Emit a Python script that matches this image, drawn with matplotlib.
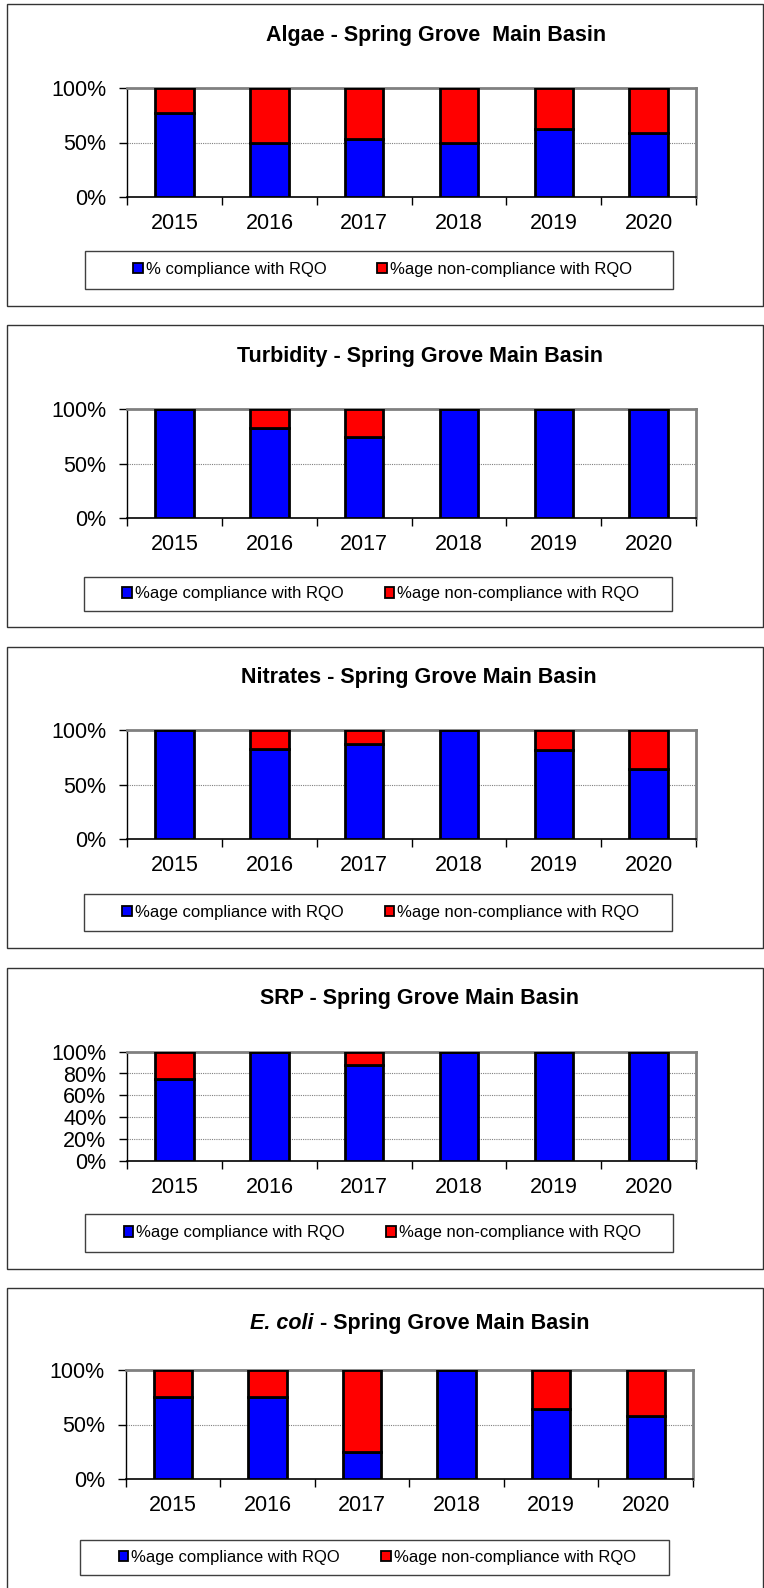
import matplotlib
matplotlib.use("Agg")
import matplotlib.pyplot as plt
from matplotlib.patches import Rectangle, Patch
from matplotlib.ticker import FixedLocator

plt.rcParams['font.family'] = ['Liberation Sans', 'DejaVu Sans']

years = ['2015', '2016', '2017', '2018', '2019', '2020']

algae_comp = [77, 50, 53, 50, 62, 59]
algae_non = [23, 50, 47, 50, 38, 41]
turbidity_comp = [100, 83, 75, 100, 100, 100]
turbidity_non = [0, 17, 25, 0, 0, 0]
nitrates_comp = [100, 83, 87.5, 100, 82, 64]
nitrates_non = [0, 17, 12.5, 0, 18, 36]
srp_comp = [75, 100, 87.5, 100, 100, 100]
srp_non = [25, 0, 12.5, 0, 0, 0]
ecoli_comp = [75, 75, 25, 100, 64, 58]
ecoli_non = [25, 25, 75, 0, 36, 42]

comp_label_algae = '% compliance with RQO'
comp_label = '%age compliance with RQO'
non_label = '%age non-compliance with RQO'

W, H = 764, 1588
fig = plt.figure(figsize=(W / 100, H / 100), dpi=100)

BLUE = '#0000FF'
RED = '#FF0000'
TICK_FS = 15.5
TITLE_FS = 15.5


def fx(x):
    return x / W


def fy(y):
    return 1 - y / H


panels = [
    dict(comp=algae_comp, non=algae_non, title='Algae - Spring Grove  Main Basin', tx=436, ty=35.5,
         box=(7.3, 4, 763.3, 306), ax=(127.3, 88, 696, 197), leg=(85.3, 250.7, 673.5, 288.7),
         cl=comp_label_algae, colsp=3.05, yt=[0, 50, 100]),
    dict(comp=turbidity_comp, non=turbidity_non, title='Turbidity - Spring Grove Main Basin', tx=420, ty=356.7,
         box=(7.3, 325, 763.3, 626.7), ax=(127.3, 409.3, 696, 518.3), leg=(83.8, 576.7, 671.5, 611),
         cl=comp_label, colsp=2.48, yt=[0, 50, 100]),
    dict(comp=nitrates_comp, non=nitrates_non, title='Nitrates - Spring Grove Main Basin', tx=419, ty=677.7,
         box=(7.3, 646.7, 763.3, 948.3), ax=(127.3, 730, 696, 839.3), leg=(83.8, 894, 671.5, 931),
         cl=comp_label, colsp=2.48, yt=[0, 50, 100]),
    dict(comp=srp_comp, non=srp_non, title='SRP - Spring Grove Main Basin', tx=420, ty=998.3,
         box=(7.3, 967.7, 763.3, 1269.3), ax=(127.3, 1051.7, 696, 1160.7), leg=(85.3, 1214.3, 673.5, 1251.7),
         cl=comp_label, colsp=2.48, yt=[0, 20, 40, 60, 80, 100]),
    dict(comp=ecoli_comp, non=ecoli_non, title=None, tx=418, ty=1323.3,
         box=(7.3, 1288.3, 763.3, 1600), ax=(125.7, 1370, 693, 1479), leg=(80.4, 1540, 668.6, 1575),
         cl=comp_label, colsp=2.48, yt=[0, 50, 100]),
]

for p in panels:
    # outer chart frame
    x0, y0, x1, y1 = p['box']
    fig.patches.append(Rectangle((fx(x0), fy(y1)), fx(x1 - x0), (y1 - y0) / H,
                                 transform=fig.transFigure, fill=False,
                                 edgecolor='#333333', linewidth=1.0, zorder=0))
    # axes
    ax0, ay0, ax1, ay1 = p['ax']
    ax = fig.add_axes([fx(ax0), fy(ay1), fx(ax1 - ax0), (ay1 - ay0) / H])
    xs = list(range(len(years)))
    ax.bar(xs, p['comp'], width=0.405, color=BLUE, edgecolor='black', linewidth=2.0, zorder=3)
    ax.bar(xs, p['non'], bottom=p['comp'], width=0.405, color=RED, edgecolor='black',
           linewidth=2.0, zorder=3)
    ax.set_xlim(-0.5, len(years) - 0.5)
    ax.set_ylim(0, 100)
    ax.set_yticks(p['yt'])
    ax.set_yticklabels([f'{v}%' for v in p['yt']], fontsize=TICK_FS)
    ax.set_xticks(xs)
    ax.set_xticklabels(years, fontsize=TICK_FS)
    ax.xaxis.set_minor_locator(FixedLocator([i - 0.5 for i in range(len(years) + 1)]))
    ax.tick_params(axis='x', which='major', length=0, pad=11.5)
    ax.tick_params(axis='x', which='minor', length=6, width=1, direction='out', color='black')
    ax.tick_params(axis='y', which='major', length=6, width=1, direction='out', pad=9, color='black')
    for v in p['yt']:
        if 0 < v < 100:
            ax.axhline(v, color='#808080', linewidth=0.8, linestyle=(0, (1, 1)), zorder=1)
    ax.spines['top'].set_color('#808080')
    ax.spines['top'].set_linewidth(2)
    ax.spines['right'].set_color('#808080')
    ax.spines['right'].set_linewidth(2)
    ax.spines['left'].set_color('black')
    ax.spines['left'].set_linewidth(1)
    ax.spines['bottom'].set_color('black')
    ax.spines['bottom'].set_linewidth(1.2)
    ax.set_facecolor('white')

    # title
    if p['title'] is not None:
        fig.text(fx(p['tx']), fy(p['ty']), p['title'], ha='center', va='center',
                 fontsize=TITLE_FS, fontweight='bold')
    else:
        split = 314
        fig.text(fx(split), fy(p['ty']), 'E. coli', ha='right', va='center',
                 fontsize=TITLE_FS, fontweight='bold', fontstyle='italic')
        fig.text(fx(split), fy(p['ty']), ' - Spring Grove Main Basin', ha='left', va='center',
                 fontsize=TITLE_FS, fontweight='bold')

    # legend frame
    lx0, ly0, lx1, ly1 = p['leg']
    fig.patches.append(Rectangle((fx(lx0), fy(ly1)), fx(lx1 - lx0), (ly1 - ly0) / H,
                                 transform=fig.transFigure, fill=False,
                                 edgecolor='#404040', linewidth=1.0, zorder=0))
    handles = [Patch(facecolor=BLUE, edgecolor='black', linewidth=1.3, label=p['cl']),
               Patch(facecolor=RED, edgecolor='black', linewidth=1.3, label=non_label)]
    fig.legend(handles=handles, loc='center', ncol=2, frameon=False, fontsize=12,
               bbox_to_anchor=(fx((lx0 + lx1) / 2 + 3), fy((ly0 + ly1) / 2)),
               handlelength=0.57, handleheight=0.57, handletextpad=0.18,
               columnspacing=p['colsp'], borderpad=0, borderaxespad=0)

fig.savefig('out.png', dpi=100, facecolor='white')
